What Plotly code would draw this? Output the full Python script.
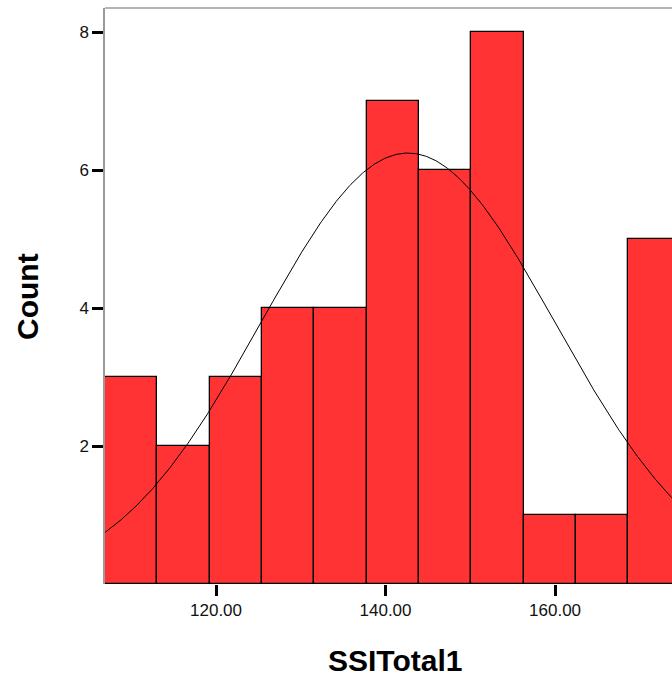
import numpy as np
import plotly.graph_objects as go

# Histogram data
counts = [3, 2, 3, 4, 4, 7, 6, 8, 1, 1, 5]
bin_start = 106.90
bin_width = 6.175

# Normal curve parameters (fitted overlay)
curve_mean = 142.65
curve_sd = 17.35
n_total = 44

x_ticks = [120, 140, 160]
x_tick_labels = ["120.00", "140.00", "160.00"]
y_ticks = [2, 4, 6, 8]
y_tick_labels = ["2", "4", "6", "8"]

centers = [bin_start + bin_width * (i + 0.5) for i in range(len(counts))]

xs = np.linspace(100, 180, 600)
ys = n_total * bin_width / (curve_sd * np.sqrt(2 * np.pi)) * np.exp(-0.5 * ((xs - curve_mean) / curve_sd) ** 2)

fig = go.Figure()
fig.add_trace(go.Bar(
    x=centers, y=counts, width=bin_width,
    marker=dict(color="#FF3333", line=dict(color="black", width=1.3)),
    hoverinfo="skip",
))
fig.add_trace(go.Scatter(
    x=xs, y=ys, mode="lines", line=dict(color="black", width=1),
    hoverinfo="skip",
))

font_family = "Liberation Sans, Arial, sans-serif"

fig.update_layout(
    width=672, height=676,
    margin=dict(l=105, r=0, t=8, b=92),
    paper_bgcolor="white", plot_bgcolor="white",
    showlegend=False,
    bargap=0,
    font=dict(family=font_family, color="black"),
    xaxis=dict(
        range=[106.90, 173.80],
        tickvals=x_ticks, ticktext=x_tick_labels,
        ticks="outside", ticklen=11, tickwidth=3, tickcolor="black",
        tickfont=dict(size=17, color="#111"),
        showgrid=False, zeroline=False, showline=False,
    ),
    yaxis=dict(
        range=[0, 8.35],
        tickvals=y_ticks, ticktext=y_tick_labels,
        ticks="outside", ticklen=11, tickwidth=3, tickcolor="black",
        tickfont=dict(size=17, color="#111"),
        showgrid=False, zeroline=False,
        showline=True, linecolor="#9a9a9a", linewidth=1.5,
    ),
    shapes=[dict(type="line", xref="paper", yref="paper", x0=0, x1=1, y0=1, y1=1,
                 line=dict(color="#9a9a9a", width=1.5))],
    annotations=[
        dict(text="<b>SSITotal1</b>", xref="paper", yref="paper",
             x=(395 - 105) / 567, y=(584 - 660) / 576, xanchor="center", yanchor="middle",
             showarrow=False, font=dict(size=30, family=font_family, color="black")),
        dict(text="<b>Count</b>", xref="paper", yref="paper",
             x=(27 - 105) / 567, y=(584 - 297) / 576, xanchor="center", yanchor="middle",
             textangle=-90, showarrow=False, font=dict(size=30, family=font_family, color="black")),
    ],
)

fig.write_html("out.html")
